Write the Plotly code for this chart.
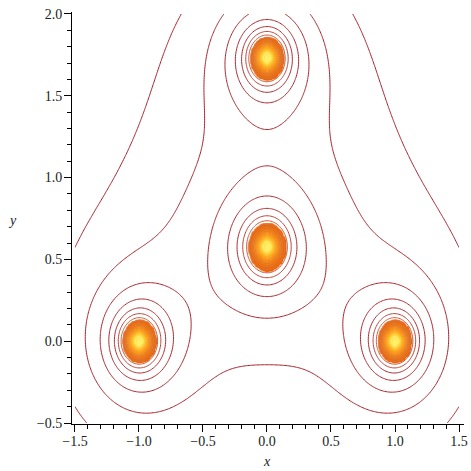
import numpy as np
import plotly.graph_objects as go

# --- data ---
peak_x = [-1.0, 1.0, 0.0, 0.0]          # source positions (x)
peak_y = [0.0, 0.0, 1.732, 0.577]       # source positions (y)
peak_strength = [1.0, 1.0, 1.0, 1.0]    # relative strengths
x_limits = [-1.5, 1.5]
y_limits = [-0.5, 2.0]
level_start = 2.9
level_step = 1.0
level_end = 40.0
core_threshold = 9.4

x_tickvals = [-1.5, -1.0, -0.5, 0.0, 0.5, 1.0, 1.5]
x_ticktext = ["\u22121.5", "\u22121.0", "\u22120.5", "0.0", "0.5", "1.0", "1.5"]
y_tickvals = [-0.5, 0.0, 0.5, 1.0, 1.5, 2.0]
y_ticktext = ["\u22120.5", "0.0", "0.5", "1.0", "1.5", "2.0"]

# --- field on a grid ---
xs = np.linspace(x_limits[0], x_limits[1], 301)
ys = np.linspace(y_limits[0], y_limits[1], 251)
X, Y = np.meshgrid(xs, ys)
Z = np.zeros_like(X)
for px, py, q in zip(peak_x, peak_y, peak_strength):
    Z += q / np.sqrt((X - px) ** 2 + (Y - py) ** 2 + 1e-5)
Z = np.minimum(Z, 120)

fig = go.Figure()

zmax_core = 50.0
fig.add_trace(go.Heatmap(
    x=xs, y=ys, z=Z, zmin=0, zmax=zmax_core, zsmooth="best", showscale=False,
    hoverinfo="skip",
    colorscale=[
        [0.0, "rgba(255,255,255,0)"],
        [(core_threshold - 0.3) / zmax_core, "rgba(255,255,255,0)"],
        [core_threshold / zmax_core, "rgb(238,100,5)"],
        [18 / zmax_core, "rgb(252,140,0)"],
        [28 / zmax_core, "rgb(255,200,25)"],
        [1.0, "rgb(255,240,100)"],
    ],
))

fig.add_trace(go.Contour(
    x=xs, y=ys, z=Z, showscale=False, hoverinfo="skip",
    contours=dict(start=level_start, end=level_end, size=level_step, coloring="lines"),
    zmin=level_start, zmax=level_end,
    line=dict(width=1),
    colorscale=[
        [0.0, "rgb(165,30,42)"],
        [0.11, "rgb(172,42,46)"],
        [0.19, "rgb(212,120,75)"],
        [0.33, "rgb(250,155,40)"],
        [0.6, "rgb(255,205,50)"],
        [1.0, "rgb(255,238,110)"],
    ],
))

font_family = "Liberation Serif"
tick_font = dict(family=font_family, size=14, color="#222")

axis_common = dict(
    showgrid=False, zeroline=False,
    showline=True, linecolor="black", linewidth=1,
    ticks="outside", ticklen=7, tickcolor="black", tickwidth=1,
    tickfont=tick_font, ticklabeloverflow="allow",
    minor=dict(tick0=0, dtick=0.1, ticks="outside", ticklen=4, tickcolor="black", showgrid=False),
)

fig.update_layout(
    width=471, height=471,
    margin=dict(l=72, r=3, t=12, b=47),
    paper_bgcolor="white", plot_bgcolor="white",
    showlegend=False,
    xaxis=dict(range=[-1.523, 1.539], tickvals=x_tickvals, ticktext=x_ticktext,
               ticklabelstandoff=-3, **axis_common),
    yaxis=dict(range=[-0.506, 2.012], tickvals=y_tickvals, ticktext=y_ticktext,
               ticklabelstandoff=-1, **axis_common),
    annotations=[
        dict(text="<i>x</i>", xref="paper", yref="paper", x=0.4975, y=-0.092,
             showarrow=False, font=dict(family=font_family, size=14, color="#222"),
             xanchor="center", yanchor="middle"),
        dict(text="<i>y</i>", xref="paper", yref="paper", x=-0.1515, y=0.495,
             showarrow=False, font=dict(family=font_family, size=14, color="#222"),
             xanchor="center", yanchor="middle"),
    ],
)

fig.write_html("out.html")
